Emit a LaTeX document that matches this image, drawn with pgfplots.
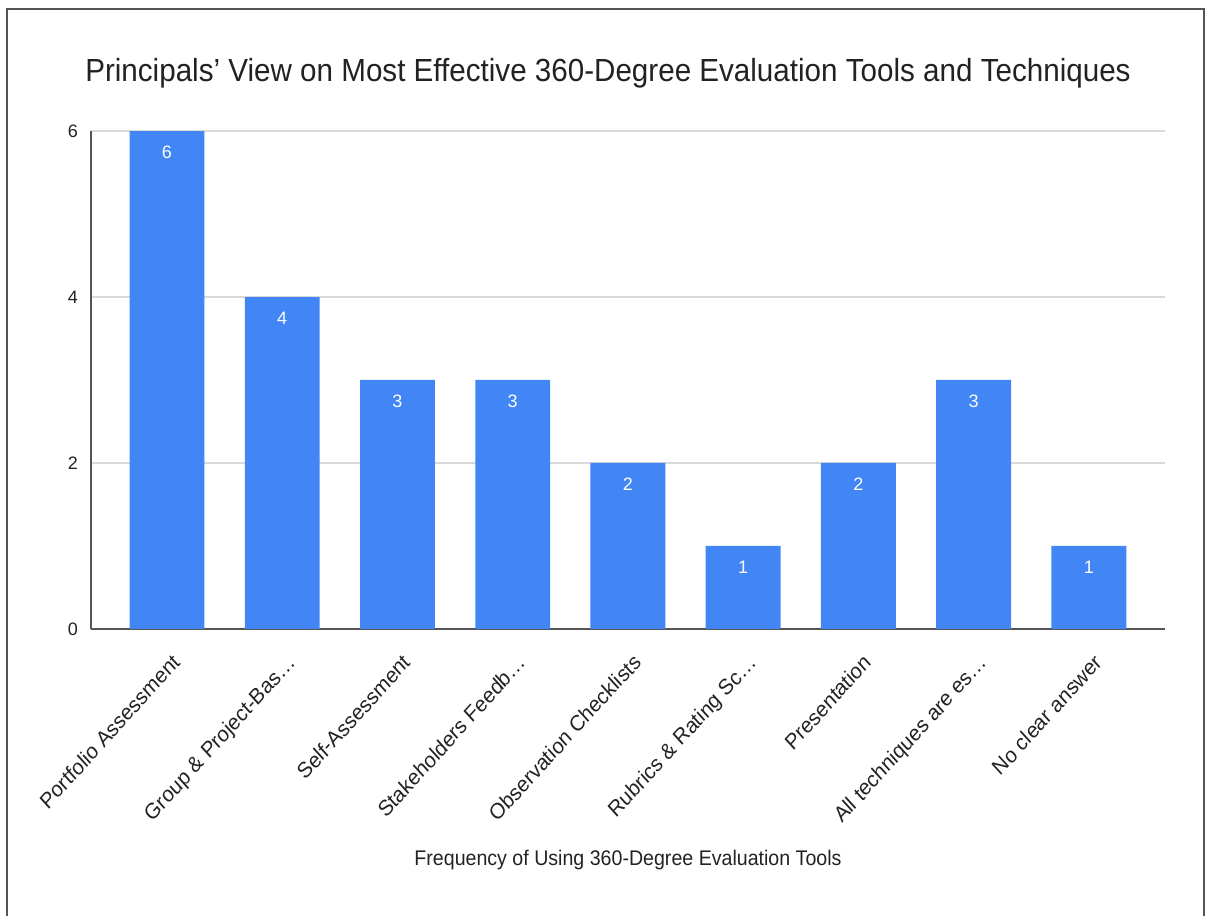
\documentclass[border=0pt]{standalone}
\usepackage{pgfplots}
\pgfplotsset{compat=1.18}
\usepackage{fontspec}
\setmainfont{Liberation Sans}
\definecolor{barblue}{HTML}{4285F4}
\definecolor{gridgray}{HTML}{D9D9D9}
\definecolor{axisgray}{HTML}{555555}
\definecolor{textgray}{HTML}{222222}

\pgfplotstableread{
idx value
0 6
1 4
2 3
3 3
4 2
5 1
6 2
7 3
8 1
}\toolsdata

\begin{document}
\begin{tikzpicture}[x=0.5pt,y=0.5pt]
  % page frame
  \useasboundingbox (0,0) rectangle (1207,916);
  \draw[color=axisgray,line width=0.6pt] (7,-2) -- (7,907) -- (1204,907) -- (1204,-2);
  \node[font=\fontsize{14.8}{17}\selectfont,text=textgray,yscale=1.08] at (608,843)
    {Principals' View on Most Effective 360-Degree Evaluation Tools and Techniques};
  \node[font=\fontsize{9.8}{12}\selectfont,text=textgray,yscale=1.08] at (628,56)
    {Frequency of Using 360-Degree Evaluation Tools};
  \begin{axis}[
    at={(83.5pt,143.5pt)}, anchor=origin,
    scale only axis, width=537pt, height=249pt,
    xmin=-0.66, xmax=8.66, ymin=0, ymax=6,
    ytick={0,2,4,6},
    xtick=data,
    xticklabels={Portfolio Assessment,Group \& Project-Bas\dots,Self-Assessment,Stakeholders Feedb\dots,Observation Checklists,Rubrics \& Rating Sc\dots,Presentation,All techniques are es\dots,No clear answer},
    xticklabel style={yscale=1.1,rotate=45,anchor=north east,font=\fontsize{10}{12}\selectfont,text=textgray,inner sep=1pt,xshift=-5pt,yshift=-7.8pt},
    yticklabel style={font=\fontsize{9}{11}\selectfont,text=textgray,xshift=-3pt},
    /pgf/number format/assume math mode=true,
    major tick length=0pt,
    ymajorgrids, grid style={gridgray,line width=0.6pt},
    axis x line*=bottom, axis y line*=left,
    axis line style={axisgray,line width=0.8pt,-},
    x axis line style={-}, y axis line style={-},
    ybar, bar width=0.65, bar shift=0pt,
    nodes near coords,
    nodes near coords style={font=\fontsize{9}{11}\selectfont,text=white,anchor=north,yshift=-4pt},
    point meta=explicit symbolic,
  ]
    \addplot[fill=barblue,draw=none] table[x=idx,y=value,meta=value] {\toolsdata};
  \end{axis}
\end{tikzpicture}
\end{document}
